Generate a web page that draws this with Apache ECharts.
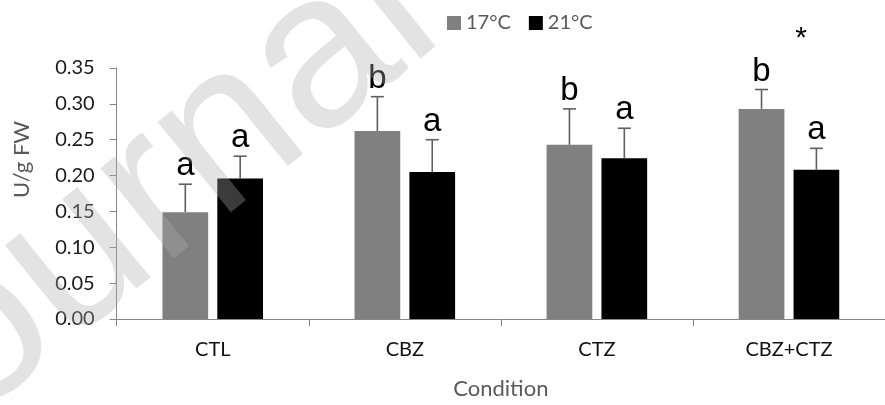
<!DOCTYPE html>
<html>
<head>
<meta charset="utf-8">
<script src="https://cdn.jsdelivr.net/npm/echarts@6/dist/echarts.min.js"></script>
<style>html,body{margin:0;padding:0;background:#fff}#c{width:885px;height:405px}</style>
</head>
<body>
<div id="c"></div>
<script>
var categories = ['CTL', 'CBZ', 'CTZ', 'CBZ+CTZ'];
var seriesNames = ['17°C', '21°C'];
var mean17 = [0.149, 0.262, 0.243, 0.293];
var mean21 = [0.196, 0.205, 0.224, 0.208];
var err17 = [0.039, 0.048, 0.050, 0.027];
var err21 = [0.031, 0.045, 0.042, 0.030];
var letters17 = ['a', 'b', 'b', 'b'];
var letters21 = ['a', 'a', 'a', 'a'];
var yTicks = [0, 0.05, 0.10, 0.15, 0.20, 0.25, 0.30, 0.35];
var starCategory = 'CBZ+CTZ';
var watermark = 'Journal';

var BAR_W = 0.238, BAR_GAP = 0.2;
var colors = ['#808080', '#000000'];

function errRender(idx, means, errs, letters) {
  return function (params, api) {
    var ci = api.value(0);
    var band = api.size([1, 0])[0];
    var bw = band * BAR_W;
    var off = (bw + bw * BAR_GAP) / 2 * (idx === 0 ? -1 : 1);
    var base = api.coord([ci, means[ci]]);
    var top = api.coord([ci, means[ci] + errs[ci]]);
    var x = base[0] + off;
    var cap = 6.5;
    var st = { stroke: '#5f5f5f', lineWidth: 1.6 };
    return {
      type: 'group',
      children: [
        { type: 'line', shape: { x1: x, y1: base[1], x2: x, y2: top[1] }, style: st },
        { type: 'line', shape: { x1: x - cap, y1: top[1], x2: x + cap, y2: top[1] }, style: st },
        { type: 'text', style: { text: letters[ci], x: x, y: top[1] - 1.5, align: 'center', verticalAlign: 'bottom',
          font: '33px "Liberation Sans", Arial, sans-serif', fill: '#000' } }
      ]
    };
  };
}

var chart = echarts.init(document.getElementById('c'), null, { renderer: 'canvas' });
chart.setOption({
  animation: false,
  backgroundColor: '#fff',
  color: colors,
  legend: {
    left: 442, top: 8,
    itemWidth: 14, itemHeight: 14, itemGap: 18,
    icon: 'rect',
    data: seriesNames,
    textStyle: { fontFamily: 'Lato', fontSize: 20, color: '#595959' }
  },
  grid: { left: 116.7, top: 68, width: 773, bottom: 83, containLabel: false },
  xAxis: {
    type: 'category', data: categories,
    name: 'Condition', nameLocation: 'middle', nameGap: 59,
    nameTextStyle: { fontFamily: 'Lato', fontSize: 22, color: '#595959' },
    axisLine: { lineStyle: { color: '#868686', width: 1 } },
    axisTick: { show: true, length: 7, lineStyle: { color: '#868686' } },
    axisLabel: { fontFamily: 'Lato', fontSize: 20, color: '#111', margin: 21 }
  },
  yAxis: {
    type: 'value', min: 0, max: 0.35, interval: 0.05,
    name: 'U/g FW', nameLocation: 'middle', nameGap: 84, nameRotate: 90,
    nameTextStyle: { fontFamily: 'Lato', fontSize: 22, color: '#595959', padding: [0, 0, 0, 68] },
    axisLine: { show: true, lineStyle: { color: '#868686', width: 1 } },
    axisTick: { show: true, length: 7, lineStyle: { color: '#868686' } },
    splitLine: { show: false },
    axisLabel: { fontFamily: 'Lato', fontSize: 20, color: '#1a1a1a', margin: 22,
      formatter: function (v) { return v.toFixed(2); } }
  },
  series: [
    { name: seriesNames[0], type: 'bar', data: mean17, barWidth: (BAR_W * 100) + '%', barGap: (BAR_GAP * 100) + '%',
      itemStyle: { color: colors[0] } },
    { name: seriesNames[1], type: 'bar', data: mean21, barWidth: (BAR_W * 100) + '%', barGap: (BAR_GAP * 100) + '%',
      itemStyle: { color: colors[1] } },
    { type: 'custom', renderItem: errRender(0, mean17, err17, letters17), data: categories.map(function (c, i) { return [i]; }), z: 5 },
    { type: 'custom', renderItem: errRender(1, mean21, err21, letters21), data: categories.map(function (c, i) { return [i]; }), z: 5 }
  ]
});

var starPos = chart.convertToPixel({ xAxisIndex: 0 }, starCategory);
chart.setOption({
  graphic: [
    { type: 'text', x: starPos + 12, y: 39, z: 50,
      style: { text: '*', font: '30px "Liberation Sans", Arial, sans-serif', fill: '#000', align: 'center', verticalAlign: 'middle' } },
    { type: 'text', x: -104, y: 503, rotation: 39 * Math.PI / 180, z: 100, silent: true,
      style: { text: watermark, x: 0, y: -76, font: '220px "Liberation Sans", Arial, sans-serif',
        fill: 'rgba(172,172,172,0.34)', align: 'left', verticalAlign: 'middle' } }
  ]
});
</script>
</body>
</html>
